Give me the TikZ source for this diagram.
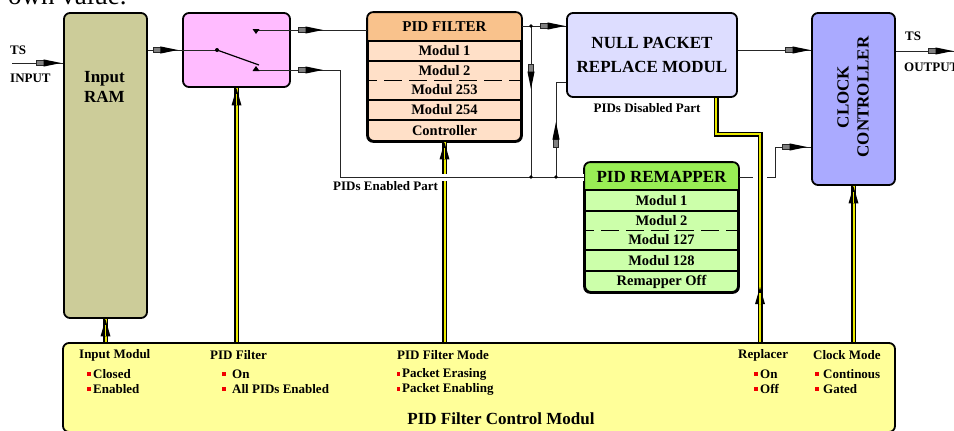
\documentclass[tikz,border=0pt]{standalone}
\usepackage{fontspec}
\setmainfont{Liberation Serif}
\usetikzlibrary{arrows.meta,decorations.markings}
\definecolor{ramc}{RGB}{204,204,153}
\definecolor{swc}{RGB}{255,187,255}
\definecolor{pfh}{RGB}{249,194,140}
\definecolor{pfr}{RGB}{255,224,200}
\definecolor{npc}{RGB}{221,221,255}
\definecolor{ckc}{RGB}{170,170,255}
\definecolor{rmh}{RGB}{153,238,85}
\definecolor{rmr}{RGB}{204,255,170}
\definecolor{pnc}{RGB}{255,255,153}
\definecolor{yel}{RGB}{235,235,0}
\definecolor{bulc}{RGB}{240,0,0}
\newcommand\myfs[2]{\fontsize{#1}{#2}\selectfont\bfseries}
\tikzset{
 box/.style={draw=black, line width=1.8pt, rounded corners=6pt, inner sep=0pt},
 sig/.style={draw=black!85, line width=0.8pt},
 tipat/.style={postaction={decorate, decoration={markings, mark=at position #1 with {\filldraw[fill=black!50, draw=black!85, line width=0.6pt] (-25pt,-2.6pt) rectangle (-17pt,2.6pt); \fill[black] (0pt,0pt) -- (-17.5pt,3.6pt) -- (-17.5pt,-3.6pt) -- cycle;}}}},
 ybus/.style={preaction={draw=black, line width=5pt}, draw=yel, line width=2pt},
 ytipat/.style={postaction={decorate, decoration={markings, mark=at position #1 with {\fill[black] (0pt,0pt) -- (-17pt,5pt) -- (-17pt,-5pt) -- cycle; \draw[yel, line width=1.4pt] (-6pt,0pt) -- (-17pt,0pt);}}}},
 txt/.style={inner sep=0pt},
 bulsq/.style={fill=bulc, minimum size=3.6pt, inner sep=0pt, draw=none},
 sepl/.style={line width=1.3pt},
 dsepl/.style={line width=1.3pt, dash pattern=on 18pt off 7pt, dash phase=8pt}
}
\begin{document}
\begin{tikzpicture}[x=1pt,y=-1pt]
\useasboundingbox (0,0) rectangle (954,431);
\node[anchor=base west, inner sep=0pt, font=\fontsize{27}{30}\selectfont] (ov) at (8,5) {own value.};

% boxes
\node[box, fill=ramc, minimum width=83pt, minimum height=305pt] (ram) at (105.5,165.5) {};
\node[box, fill=swc, minimum width=107pt, minimum height=74pt] (sw) at (236.5,50) {};
\node[box, fill=pfr, minimum width=153pt, minimum height=128pt] (pidf) at (444.5,77) {};
\begin{scope}
\clip[rounded corners=6pt] (pidf.south west) rectangle (pidf.north east);
\fill[pfh] (pidf.north west) rectangle (pidf.east |- 0,41);
\end{scope}
\foreach \yy in {41,61,100,120} \draw[sepl] (pidf.west |- 0,\yy) -- (pidf.east |- 0,\yy);
\draw[dsepl] (pidf.west |- 0,80.5) -- (pidf.east |- 0,80.5);
\draw[box] (pidf.south west) rectangle (pidf.north east);

\node[box, fill=npc, minimum width=170pt, minimum height=84pt] (null) at (652,55) {};
\node[box, fill=ckc, minimum width=83pt, minimum height=172pt] (clock) at (853.5,99) {};

\node[box, fill=rmr, minimum width=153pt, minimum height=129pt] (remap) at (661.5,227.5) {};
\begin{scope}
\clip[rounded corners=6pt] (remap.south west) rectangle (remap.north east);
\fill[rmh] (remap.north west) rectangle (remap.east |- 0,190);
\end{scope}
\foreach \yy in {190,211,250,271} \draw[sepl] (remap.west |- 0,\yy) -- (remap.east |- 0,\yy);
\draw[dsepl] (remap.west |- 0,230.5) -- (remap.east |- 0,230.5);
\draw[box] (remap.south west) rectangle (remap.north east);

\node[box, fill=pnc, minimum width=832pt, minimum height=89pt] (panel) at (479,387.5) {};

% coordinates
\coordinate (tsin) at (12,63);
\coordinate (piv) at (217,50);
\coordinate (uc) at (257,30);
\coordinate (lc) at (254,70);
\coordinate (bend1) at (340,177);
\coordinate (j1) at (531,26);
\coordinate (j2) at (556,177);
\coordinate (rb) at (775,177);
\coordinate (ck2) at (clock.west |- 0,147);
\coordinate (tsout) at (954,51);
\coordinate (rp) at (760,134);
\coordinate (rn) at (null.south -| 716,0);

% control buses
\draw[ybus, ytipat=-0.5pt] (ram.south |- panel.north) -- (ram.south);
\draw[ybus, ytipat=-0.5pt] (sw.south |- panel.north) -- (sw.south);
\draw[ybus, ytipat=-0.5pt] (pidf.south |- panel.north) -- (pidf.south);
\draw[ybus, ytipat=-0.5pt] (clock.south |- panel.north) -- (clock.south);
\draw[white, line width=7pt] (bend1) -- (bend1 -| remap.west);

% signal connectors
\draw[sig, tipat=-2pt] (tsin) -- (tsin -| ram.west);
\draw[sig, tipat=30pt] (ram.east |- piv) -- (piv);
\draw[sig, tipat=66pt] (uc) -- (uc -| pidf.west);
\draw[sig, tipat=69pt] (lc) -| (bend1) -- (bend1 -| remap.west);
\draw[sig, tipat=-1pt] (pidf.east |- j1) -- (j1 -| null.west);
\draw[sig, tipat=63pt] (j1) -- (j1 |- bend1);
\draw[sig, tipat=55pt] (j2) |- (null.west |- 0,82);
\draw[sig, tipat=-1pt] (null.east |- 0,50) -- (clock.west |- 0,50);
\draw[sig, tipat=-1pt] (clock.east |- tsout) -- (tsout);
\draw[sig, tipat=-4pt] (rb -| remap.east) -- (rb) |- (ck2);

% replacer bus
\draw[preaction={draw=white, line width=14pt}, ybus, ytipat=55pt] (rp |- panel.north) -- (rp) -| (rn);

% dots and switch
\fill (j1) circle (1.8pt);
\fill (j1 |- bend1) circle (1.8pt);
\fill (j2) circle (1.8pt);
\fill (piv) circle (2pt);
\draw[line width=1.2pt] (piv) -- (259,65);
\fill (252.5,29) -- (259.5,29) -- (256,34) -- cycle;
\fill (252.5,71) -- (259.5,71) -- (256,66) -- cycle;

% texts in boxes
\node[txt, font=\myfs{17}{20}, align=center] (ramtxt) at (104.5,87) {Input\\RAM};
\node[txt, font=\myfs{15}{18}] (pfhead) at (444.5,27) {PID FILTER};
\node[txt, font=\myfs{14.5}{17}] (pf1) at (444.5,51) {Modul 1};
\node[txt, font=\myfs{14.5}{17}] (pf2) at (444.5,70.5) {Modul 2};
\node[txt, font=\myfs{14.5}{17}] (pf3) at (444.5,90) {Modul 253};
\node[txt, font=\myfs{14.5}{17}] (pf4) at (444.5,110) {Modul 254};
\node[txt, font=\myfs{14.5}{17}] (pf5) at (444.5,130.5) {Controller};
\node[txt, font=\myfs{17}{24}, align=center] (nulltxt) at (652,55) {NULL PACKET\\REPLACE MODUL};
\node[txt, font=\myfs{13}{15}] (pdis) at (647,108) {PIDs Disabled Part};
\node[txt, font=\myfs{17}{20}, align=center, rotate=90] (cktxt) at (853,97) {CLOCK\\CONTROLLER};
\node[txt, font=\myfs{17}{20}] (rmhead) at (661.5,176.5) {PID REMAPPER};
\node[txt, font=\myfs{14.5}{17}] (rm1) at (661.5,200.5) {Modul 1};
\node[txt, font=\myfs{14.5}{17}] (rm2) at (661.5,220.5) {Modul 2};
\node[txt, font=\myfs{14.5}{17}] (rm3) at (661.5,240) {Modul 127};
\node[txt, font=\myfs{14.5}{17}] (rm4) at (661.5,260.5) {Modul 128};
\node[txt, font=\myfs{14.5}{17}] (rm5) at (661.5,281.5) {Remapper Off};
\node[txt, font=\myfs{13}{15}, anchor=west] (pen) at (333,186) {PIDs Enabled Part};
\node[txt, font=\myfs{13}{15}, anchor=west] (tsl) at (10,50) {TS};
\node[txt, font=\myfs{13}{15}, anchor=west] (inl) at (10,78) {INPUT};
\node[txt, font=\myfs{13}{15}, anchor=west] (tso) at (905,36) {TS};
\node[txt, font=\myfs{13}{15}, anchor=west] (outl) at (904,67) {OUTPUT};

% panel texts
\node[txt, font=\myfs{13}{15}, anchor=west] (l1) at (79,355) {Input Modul};
\node[txt, font=\myfs{13}{15}, anchor=west] (l2) at (210,355) {PID Filter};
\node[txt, font=\myfs{13}{15}, anchor=west] (l3) at (397,355) {PID Filter Mode};
\node[txt, font=\myfs{13}{15}, anchor=west] (l4) at (738,355) {Replacer};
\node[txt, font=\myfs{13}{15}, anchor=west] (l5) at (813,355) {Clock Mode};

\node[bulsq] (b1a) at (89,374) {};
\node[bulsq] (b1b) at (89,389) {};
\node[txt, font=\myfs{13}{15}, anchor=west] (i1a) at (93,374) {Closed};
\node[txt, font=\myfs{13}{15}, anchor=west] (i1b) at (93,389) {Enabled};
\node[bulsq] (b2a) at (224,374) {};
\node[bulsq] (b2b) at (224,389) {};
\node[txt, font=\myfs{13}{15}, anchor=west] (i2a) at (232,374) {On};
\node[txt, font=\myfs{13}{15}, anchor=west] (i2b) at (232,389) {All PIDs Enabled};
\node[bulsq] (b3a) at (398.5,374) {};
\node[bulsq] (b3b) at (398.5,389) {};
\node[txt, font=\myfs{13}{15}, anchor=west] (i3a) at (402,374) {Packet Erasing};
\node[txt, font=\myfs{13}{15}, anchor=west] (i3b) at (402,389) {Packet Enabling};
\node[bulsq] (b4a) at (756,374) {};
\node[bulsq] (b4b) at (756,389) {};
\node[txt, font=\myfs{13}{15}, anchor=west] (i4a) at (760,374) {On};
\node[txt, font=\myfs{13}{15}, anchor=west] (i4b) at (760,389) {Off};
\node[bulsq] (b5a) at (817,374) {};
\node[bulsq] (b5b) at (817,389) {};
\node[txt, font=\myfs{13}{15}, anchor=west] (i5a) at (823,374) {Continous};
\node[txt, font=\myfs{13}{15}, anchor=west] (i5b) at (823,389) {Gated};
\node[txt, font=\myfs{17}{20}] (ttl) at (501,419) {PID Filter Control Modul};
\end{tikzpicture}
\end{document}
